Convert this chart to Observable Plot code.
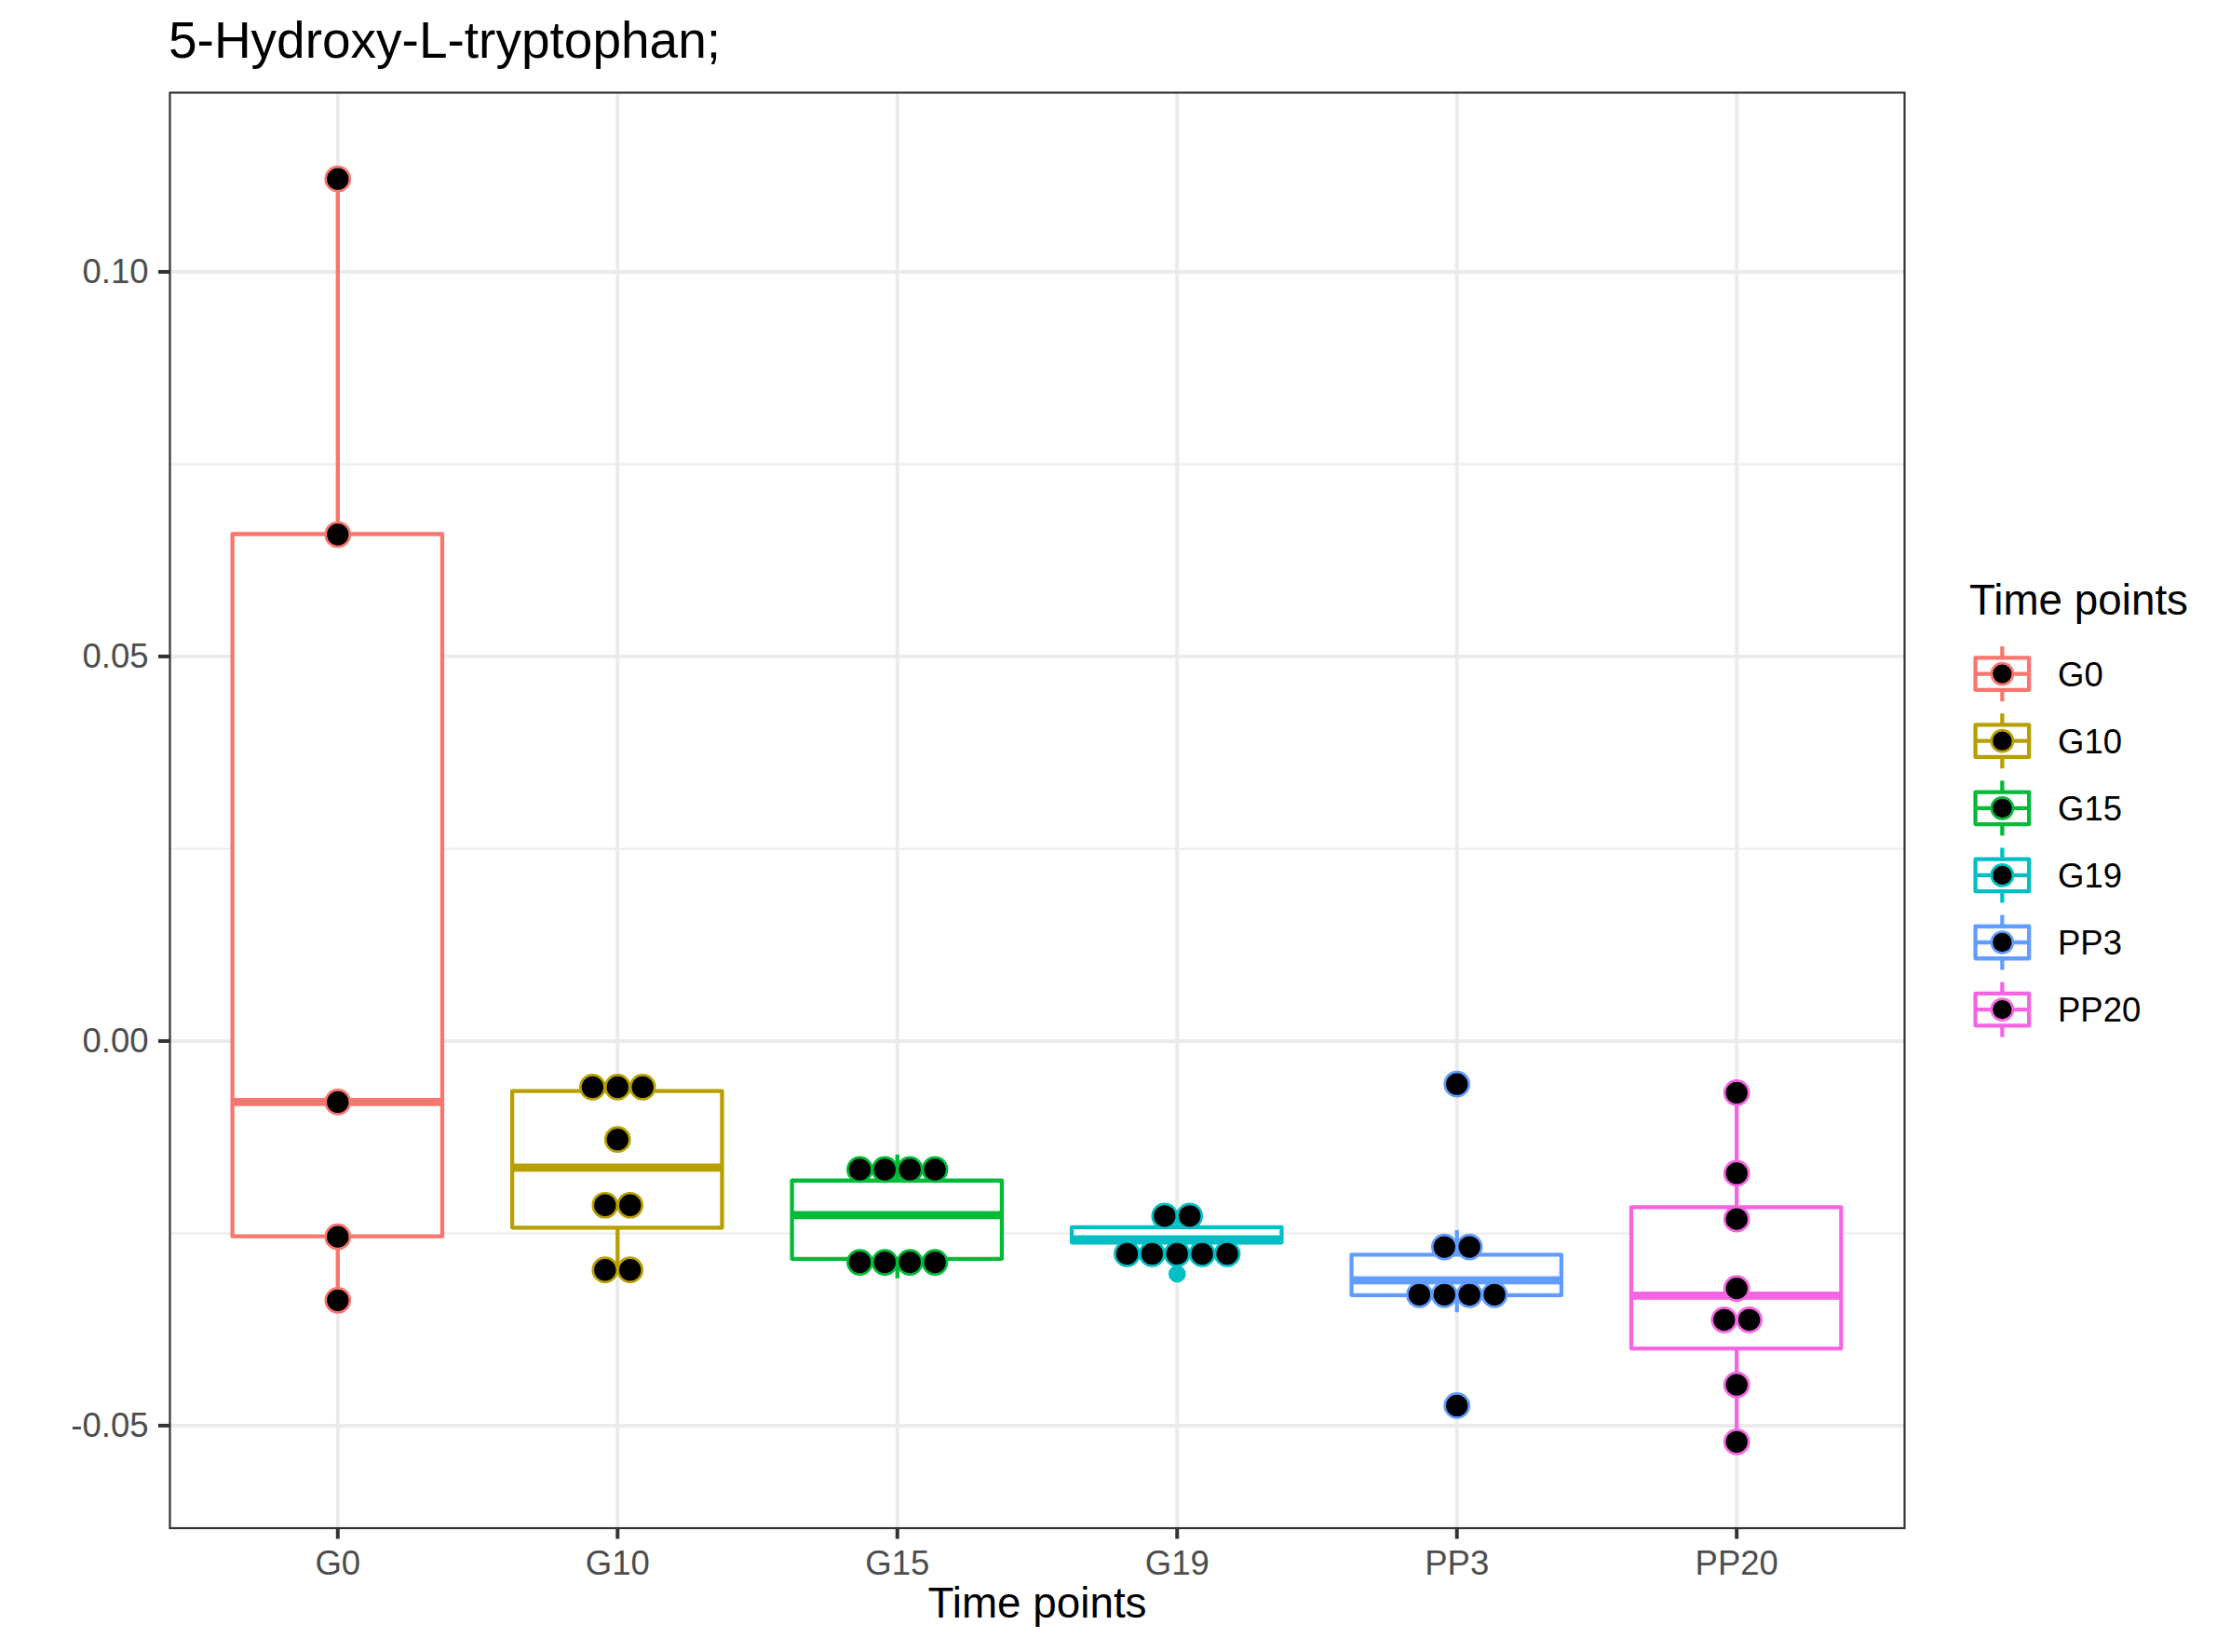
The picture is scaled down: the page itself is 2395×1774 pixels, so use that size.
<!DOCTYPE html>
<html>
<head>
<meta charset="utf-8">
<script src="https://cdn.jsdelivr.net/npm/d3@7"></script>
<script src="https://cdn.jsdelivr.net/npm/@observablehq/plot@0.6"></script>
<style>
html, body { margin: 0; padding: 0; background: #ffffff; }
#wrap { position: relative; width: 2395px; height: 1774px; font-family: "Liberation Sans", Arial, Helvetica, sans-serif; background: #fff; }
#title { height: 90px; box-sizing: border-box; padding-top: 16px; padding-left: 181px; font-size: 55px; line-height: 55px; color: #000; white-space: nowrap; }
#chart { display: block; }
#legend { position: absolute; left: 2100px; top: 600px; }
</style>
</head>
<body>
<div id="wrap">
  <div id="title">5-Hydroxy-L-tryptophan;</div>
  <div id="chart"></div>
  <div id="legend"></div>
</div>
<script>
// ---- data ----
const categories = ["G0", "G10", "G15", "G19", "PP3", "PP20"];
const palette = ["#F8766D", "#B79F00", "#00BA38", "#00BFC4", "#619CFF", "#F564E3"];
const valuesG0   = [0.11208, 0.06585, -0.00793, -0.02545, -0.03371];
const valuesG10  = [-0.0053, -0.0062, -0.0067, -0.0128, -0.0201, -0.0226, -0.0295, -0.0300];
const valuesG15  = [-0.0148, -0.0176, -0.0184, -0.01862, -0.02664, -0.0281, -0.0292, -0.0309];
const valuesG19  = [-0.02204, -0.02346, -0.02506, -0.02577, -0.0258, -0.0267, -0.03028];
const valuesPP3  = [-0.0056, -0.02465, -0.02889, -0.03064, -0.0316, -0.03236, -0.03532, -0.0474];
const valuesPP20 = [-0.00672, -0.01719, -0.02315, -0.03217, -0.03403, -0.03847, -0.0447, -0.05211];
const yTicks = [-0.05, 0, 0.05, 0.10];
const yMinorTicks = [-0.025, 0.025, 0.075];
const titleText = "5-Hydroxy-L-tryptophan;";
const xTitle = "Time points";
const legendTitle = "Time points";

const groupValues = [valuesG0, valuesG10, valuesG15, valuesG19, valuesPP3, valuesPP20];

// ---- layout ----
const W = 2395, H = 1684;
const mL = 182, mR = 350, mT = 9, mB = 133.5;
const font = "'Liberation Sans', Arial, Helvetica, sans-serif";

// ---- derived (ggplot-like statistics) ----
const all = groupValues.flat();
const [vmin, vmax] = d3.extent(all);
const binwidth = (vmax - vmin) / 30;
const lo = vmin - binwidth / 2, hi = vmax + binwidth / 2;
const pad = (hi - lo) * 0.05;
const yDomain = [lo - pad, hi + pad];
const xDomain = [0.4, categories.length + 0.6];
const stepPx = (W - mL - mR) / (xDomain[1] - xDomain[0]);
const dotSpacing = 26.9 / stepPx;
const halfBox = 0.375;

const boxes = groupValues.map((vals, i) => {
  const s = vals.slice().sort(d3.ascending);
  const q1 = d3.quantileSorted(s, 0.25), med = d3.quantileSorted(s, 0.5), q3 = d3.quantileSorted(s, 0.75);
  const iqr = q3 - q1;
  const lf = q1 - 1.5 * iqr, uf = q3 + 1.5 * iqr;
  const inside = s.filter(v => v >= lf && v <= uf);
  return {x: i + 1, cat: categories[i], q1, med, q3,
          lo: d3.min(inside), hi: d3.max(inside),
          outliers: s.filter(v => v < lf || v > uf)};
});
const outliers = boxes.flatMap(b => b.outliers.map(v => ({x: b.x, cat: b.cat, y: v})));

// dot-density binning (as geom_dotplot, binaxis = "y", stackdir = "center")
const dots = [];
groupValues.forEach((vals, i) => {
  const s = vals.slice().sort(d3.ascending);
  const bins = [];
  let end = -Infinity;
  for (const v of s) {
    if (v >= end) { bins.push([]); end = v + binwidth; }
    bins[bins.length - 1].push(v);
  }
  for (const b of bins) {
    const c = (b[0] + b[b.length - 1]) / 2;
    b.forEach((v, k) => dots.push({x: i + 1 + (k - (b.length - 1) / 2) * dotSpacing, y: c, cat: categories[i]}));
  }
});

const xIdx = d3.range(1, categories.length + 1);

const chart = Plot.plot({
  width: W, height: H,
  marginLeft: mL, marginRight: mR, marginTop: mT, marginBottom: mB,
  style: {fontFamily: font, background: "white", overflow: "visible"},
  x: {domain: xDomain},
  y: {domain: yDomain},
  color: {domain: categories, range: palette},
  marks: [
    Plot.gridY(yMinorTicks, {stroke: "#EBEBEB", strokeOpacity: 1, strokeWidth: 2}),
    Plot.gridY(yTicks, {stroke: "#EBEBEB", strokeOpacity: 1, strokeWidth: 4}),
    Plot.gridX(xIdx, {stroke: "#EBEBEB", strokeOpacity: 1, strokeWidth: 4}),
    Plot.ruleX(boxes, {x: "x", y1: "q3", y2: "hi", stroke: "cat", strokeWidth: 4.3}),
    Plot.ruleX(boxes, {x: "x", y1: "q1", y2: "lo", stroke: "cat", strokeWidth: 4.3}),
    Plot.rect(boxes, {x1: d => d.x - halfBox, x2: d => d.x + halfBox, y1: "q1", y2: "q3",
                      fill: "white", stroke: "cat", strokeWidth: 4.3, strokeLinejoin: "round"}),
    Plot.ruleY(boxes, {y: "med", x1: d => d.x - halfBox, x2: d => d.x + halfBox, stroke: "cat", strokeWidth: 8.7}),
    Plot.dot(outliers, {x: "x", y: "y", r: 9.3, fill: "cat", stroke: "none"}),
    Plot.dot(dots, {x: "x", y: "y", r: 13, fill: "black", stroke: "cat", strokeWidth: 2.7}),
    Plot.frame({stroke: "#333333", strokeWidth: 2.2}),
    Plot.axisY(yTicks, {tickSize: 12, tickPadding: 11, fontSize: 36.5, stroke: "#333333", strokeWidth: 4,
                        fill: "#4D4D4D", tickFormat: d => d.toFixed(2), label: null}),
    Plot.axisX(xIdx, {tickSize: 12, tickPadding: 12, fontSize: 36.5, stroke: "#333333", strokeWidth: 4,
                      fill: "#4D4D4D", tickFormat: d => categories[d - 1], label: null}),
    Plot.text([xTitle], {frameAnchor: "bottom", lineAnchor: "bottom", dy: 95.5, fontSize: 45.8, fill: "black"})
  ]
});
document.getElementById("chart").appendChild(chart);

// ---- legend (ggplot-style boxplot + dot keys) ----
const lg = d3.create("svg").attr("width", 295).attr("height", 520)
  .style("font-family", font).style("overflow", "visible");
lg.append("text").attr("x", 15).attr("y", 60).attr("font-size", 45.8).attr("fill", "black").text(legendTitle);
categories.forEach((c, k) => {
  const cx = 50.4, cy = 123.6 + 72.1 * k, col = palette[k];
  const g = lg.append("g");
  g.append("line").attr("x1", cx).attr("x2", cx).attr("y1", cy - 29.5).attr("y2", cy + 29.5)
    .attr("stroke", col).attr("stroke-width", 4.3);
  g.append("rect").attr("x", cx - 28.8).attr("y", cy - 17.25).attr("width", 57.6).attr("height", 34.5)
    .attr("fill", "white").attr("stroke", col).attr("stroke-width", 4.3).attr("stroke-linejoin", "round");
  g.append("line").attr("x1", cx - 28.8).attr("x2", cx + 28.8).attr("y1", cy).attr("y2", cy)
    .attr("stroke", col).attr("stroke-width", 4.3);
  g.append("circle").attr("cx", cx).attr("cy", cy).attr("r", 11.5)
    .attr("fill", "black").attr("stroke", col).attr("stroke-width", 2.7);
  lg.append("text").attr("x", 110).attr("y", cy + 13).attr("font-size", 36.5).attr("fill", "black").text(c);
});
document.getElementById("legend").appendChild(lg.node());
</script>
</body>
</html>
